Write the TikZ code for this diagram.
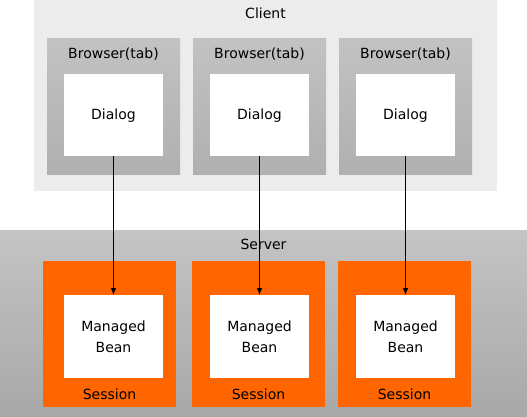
\documentclass[tikz,border=0pt]{standalone}
\usepackage{fontspec}
\setmainfont{DejaVu Sans}
\usetikzlibrary{arrows.meta}
\definecolor{clientbg}{HTML}{ECECEC}
\definecolor{srvtop}{HTML}{C4C4C4}
\definecolor{srvbot}{HTML}{A8A8A8}
\definecolor{brtop}{HTML}{C2C2C2}
\definecolor{brbot}{HTML}{B0B0B0}
\definecolor{sessorange}{HTML}{FF6600}
\tikzset{
  area/.style={inner sep=0pt, outer sep=0pt, draw=none, anchor=north west},
  clientbox/.style={area, fill=clientbg},
  serverbox/.style={area, top color=srvtop, bottom color=srvbot},
  browserbox/.style={area, top color=brtop, bottom color=brbot, minimum width=133pt, minimum height=135pt},
  dialogbox/.style={area, fill=white, minimum width=99pt, minimum height=82pt},
  sessionbox/.style={area, fill=sessorange, minimum width=133pt, minimum height=146pt},
  beanbox/.style={area, fill=white, minimum width=99pt, minimum height=83pt},
  lbl/.style={inner sep=0pt, anchor=base, font=\fontsize{14}{20}\selectfont, text=black},
  conn/.style={draw=black, line width=0.8pt, -{Latex[length=7pt,width=5.5pt]}}
}
\begin{document}
\begin{tikzpicture}[x=1pt,y=-1pt]
\useasboundingbox (0,0) rectangle (527,417);
\fill[white] (0,0) rectangle (527,417);
\node[clientbox, minimum width=463pt, minimum height=191pt] (client) at (34,0) {};
\node[serverbox, minimum width=527pt, minimum height=187pt] (server) at (0,230) {};
\node[lbl] (clientlbl) at (265.5,19) {Client};
\node[lbl] (serverlbl) at (263.5,249) {Server};
% browsers
\node[browserbox] (br1) at (47,39) {};
\node[browserbox] (br2) at (193,39) {};
\node[browserbox] (br3) at (339,39) {};
\node[lbl] (brl1) at (113.5,59) {Browser(tab)};
\node[lbl] (brl2) at (259.5,59) {Browser(tab)};
\node[lbl] (brl3) at (405.5,59) {Browser(tab)};
\node[dialogbox] (dlg1) at (64,74) {};
\node[dialogbox] (dlg2) at (210,74) {};
\node[dialogbox] (dlg3) at (356,74) {};
\node[lbl] (dl1) at (113.5,120) {Dialog};
\node[lbl] (dl2) at (259.5,120) {Dialog};
\node[lbl] (dl3) at (405.5,120) {Dialog};
% sessions
\node[sessionbox] (ses1) at (43,261) {};
\node[sessionbox] (ses2) at (192,261) {};
\node[sessionbox] (ses3) at (338,261) {};
\node[beanbox] (bean1) at (64,295) {};
\node[beanbox] (bean2) at (210,295) {};
\node[beanbox] (bean3) at (356,295) {};
\node[lbl] (bm1) at (113.5,331) {Managed};
\node[lbl] (bb1) at (113.5,352) {Bean};
\node[lbl] (bm2) at (259.5,331) {Managed};
\node[lbl] (bb2) at (259.5,352) {Bean};
\node[lbl] (bm3) at (405.5,331) {Managed};
\node[lbl] (bb3) at (405.5,352) {Bean};
\node[lbl] (sl1) at (109.5,399) {Session};
\node[lbl] (sl2) at (258.5,399) {Session};
\node[lbl] (sl3) at (404.5,399) {Session};
% connectors
\draw[conn] (dlg1.south) -- (bean1.north);
\draw[conn] (dlg2.south) -- (bean2.north);
\draw[conn] (dlg3.south) -- (bean3.north);
\end{tikzpicture}
\end{document}
